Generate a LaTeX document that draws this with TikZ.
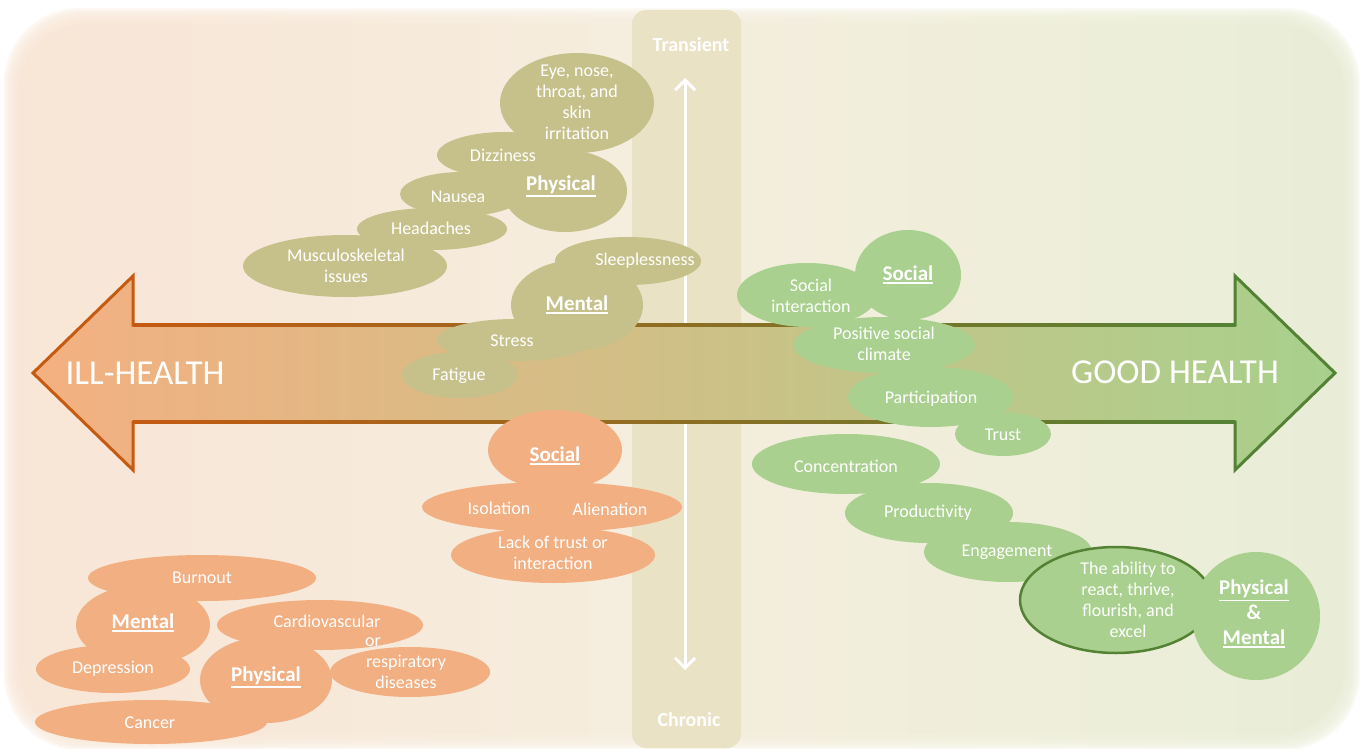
\documentclass[tikz,border=0pt]{standalone}
\usepackage{fontspec}
\setmainfont{Carlito}
\usetikzlibrary{arrows.meta}

\definecolor{bandc}{HTML}{E9E2C5}
\definecolor{blobOlive}{HTML}{C6C18B}
\definecolor{blobOrange}{HTML}{F2AF82}
\definecolor{blobGreen}{HTML}{A9D08E}
\definecolor{illEdge}{HTML}{C55A11}
\definecolor{goodEdge}{HTML}{548235}
\definecolor{midEdge}{HTML}{94691F}
\definecolor{arL}{HTML}{F4B081}
\definecolor{arM}{HTML}{E2C587}
\definecolor{arR}{HTML}{A8D08C}

% panel colours running from peach through cream to pale green
\pgfdeclarehorizontalshading{panelshade}{100bp}{
  color(0bp)=(rgb,255:red,248;green,227;blue,210);
  color(30bp)=(rgb,255:red,248;green,231;blue,216);
  color(48bp)=(rgb,255:red,245;green,237;blue,221);
  color(62bp)=(rgb,255:red,239;green,238;blue,218);
  color(80bp)=(rgb,255:red,230;green,237;blue,214);
  color(100bp)=(rgb,255:red,223;green,236;blue,211)}

% bold underlined category label
\newcommand{\ulbl}[1]{\vtop{\hbox{#1}\kern1.5pt\hrule height 1.5pt}}
% filled ellipse: colour, x, y, x radius, y radius
\newcommand{\blob}[5]{\fill[#1] (#2,#3) ellipse [x radius=#4, y radius=#5];}

\tikzset{
  txt/.style={text=white, font=\fontsize{18}{21}\selectfont, align=center, inner sep=0pt},
  lbl/.style={text=white, font=\bfseries\fontsize{21}{25}\selectfont, align=center, inner sep=0pt},
  axislbl/.style={text=white, font=\bfseries\fontsize{20}{24}\selectfont, inner sep=0pt},
  bigword/.style={text=white, font=\fontsize{35}{40}\selectfont, inner sep=0pt},
}

\begin{document}
\begin{tikzpicture}[x=1pt, y=-1pt]
\useasboundingbox (0,0) rectangle (1362,749);

% soft-edged background panel
\foreach \i in {0,...,7} {
  \shade[shading=panelshade, opacity=0.3, rounded corners=75pt]
    ({4+2*\i},{8+2*\i}) rectangle ({1360-2*\i},{750-2*\i});
}
\shade[shading=panelshade, rounded corners=65pt] (20,24) rectangle (1344,734);

% time band
\fill[bandc, rounded corners=14pt] (632,10) rectangle (741,748);
\node[axislbl] (trans) at (691,45) {Transient};
\node[axislbl] (chron) at (689,720) {Chronic};
\coordinate (vt) at (685,78);
\coordinate (vb) at (685,670);
\draw[white, line width=3pt, {Straight Barb[length=10pt,width=20pt]}-{Straight Barb[length=10pt,width=20pt]}] (vt) -- (vb);

% health arrow
\shade[left color=arL, middle color=arM, right color=arR]
  (33,373) -- (133,276) -- (133,325) -- (1235,325) -- (1235,276) -- (1335,373)
  -- (1235,470) -- (1235,422) -- (133,422) -- (133,470) -- cycle;
\shade[left color=illEdge, middle color=midEdge, right color=goodEdge] (133,323.5) rectangle (1235,326.5);
\shade[left color=illEdge, middle color=midEdge, right color=goodEdge] (133,420.5) rectangle (1235,423.5);
\draw[illEdge, line width=3pt, line join=miter] (133,326.5) -- (133,276) -- (33,373) -- (133,470) -- (133,420.5);
\draw[goodEdge, line width=3pt, line join=miter] (1235,326.5) -- (1235,276) -- (1335,373) -- (1235,470) -- (1235,420.5);
\node[bigword] (ill) at (145,373) {ILL-HEALTH};
\node[bigword] (good) at (1175,372) {GOOD HEALTH};

% transient physical symptoms
\blob{blobOlive}{577}{103}{77}{50}
\blob{blobOlive}{505}{155}{68}{23}
\blob{blobOlive}{565}{191}{62}{41}
\blob{blobOlive}{462}{194}{62}{22}
\blob{blobOlive}{432}{229}{75}{21}
\blob{blobOlive}{345}{266}{102}{31}
\node[txt] (eye) at (577,102) {Eye, nose,\\throat, and\\skin\\irritation};
\node[txt] (dizz) at (503,155) {Dizziness};
\node[lbl] (phys1) at (561,186) {\ulbl{Physical}};
\node[txt] (naus) at (458,197) {Nausea};
\node[txt] (head) at (431,228) {Headaches};
\node[txt] (musc) at (346,266) {Musculoskeletal\\issues};

% transient mental symptoms
\blob{blobOlive}{628}{261}{73}{24}
\blob{blobOlive}{577}{305}{66}{45}
\blob{blobOlive}{515}{340}{78}{21}
\blob{blobOlive}{460}{375}{58}{23}
\node[txt] (sleep) at (645,261) {Sleeplessness};
\node[lbl] (ment1) at (577,305) {\ulbl{Mental}};
\node[txt] (stress) at (512,341) {Stress};
\node[txt] (fatig) at (459,376) {Fatigue};

% social ill-health
\blob{blobOrange}{555}{450}{67}{40}
\blob{blobOrange}{552}{507}{130}{25}
\blob{blobOrange}{553}{555}{102}{28}
\node[lbl] (soc1) at (555,456) {\ulbl{Social}};
\node[txt] (iso) at (499,508) {Isolation};
\node[txt] (alien) at (610,509) {Alienation};
\node[txt] (lack) at (553,553) {Lack of trust or\\interaction};

% chronic ill-health
\blob{blobOrange}{202}{578}{114}{23}
\blob{blobOrange}{143}{625}{67}{40}
\blob{blobOrange}{113}{669}{77}{24}
\blob{blobOrange}{320}{625}{103}{25}
\blob{blobOrange}{266}{680}{66}{43}
\blob{blobOrange}{410}{672}{80}{25}
\blob{blobOrange}{151}{722}{116}{22}
\node[txt] (burn) at (202,578) {Burnout};
\node[lbl] (ment2) at (143,623) {\ulbl{Mental}};
\node[txt] (dep) at (113,669) {Depression};
\node[txt] (card) at (327,621) {Cardiovascular};
\node[txt] (or) at (373,642) {or};
\node[txt] (resp) at (406,672) {respiratory\\diseases};
\node[lbl] (phys2) at (266,677) {\ulbl{Physical}};
\node[txt] (canc) at (150,723) {Cancer};

% social good health
\blob{blobGreen}{908}{275}{53}{45}
\blob{blobGreen}{807}{295}{70}{32}
\blob{blobGreen}{884}{345}{91}{28}
\blob{blobGreen}{931}{397}{83}{30}
\blob{blobGreen}{1003}{434}{48}{22}
\node[lbl] (soc2) at (908,275) {\ulbl{Social}};
\node[txt] (inter) at (811,296) {Social\\interaction};
\node[txt] (clim) at (884,344) {Positive social\\climate};
\node[txt] (part) at (931,399) {Participation};
\node[txt] (trust) at (1003,435) {Trust};

% physical and mental good health
\blob{blobGreen}{846}{464}{94}{30}
\blob{blobGreen}{929}{513}{84}{30}
\blob{blobGreen}{1008}{552}{84}{30}
\filldraw[fill=blobGreen, draw=goodEdge, line width=2.5pt] (1116,600) ellipse [x radius=96, y radius=53];
\blob{blobGreen}{1256}{616}{64}{64}
\node[txt] (conc) at (846,466) {Concentration};
\node[txt] (prod) at (928,513) {Productivity};
\node[txt] (eng) at (1007,552) {Engagement};
\node[txt] (abil) at (1128,600) {The ability to\\react, thrive,\\flourish, and\\excel};
\node[lbl] (pm) at (1254,614) {\ulbl{Physical}\\\&\\\ulbl{Mental}};

\end{tikzpicture}
\end{document}
